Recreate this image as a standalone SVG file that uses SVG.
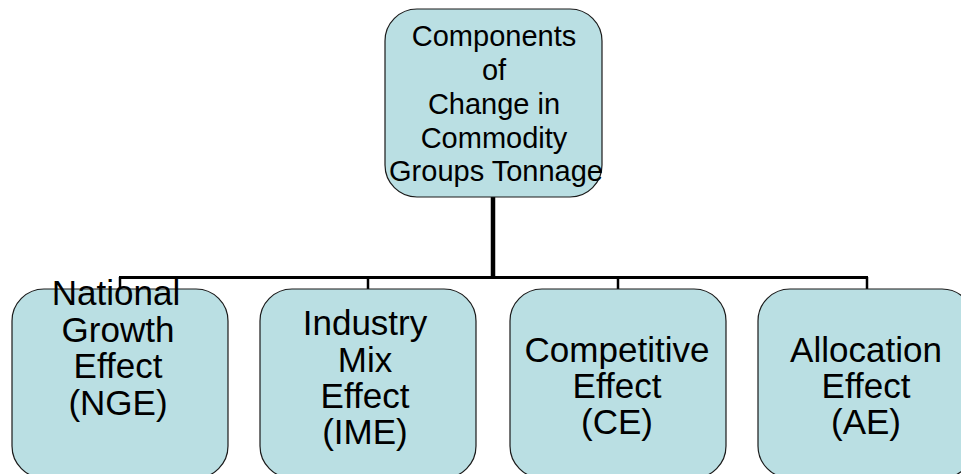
<svg xmlns="http://www.w3.org/2000/svg" width="961" height="474" viewBox="0 0 961 474">
<style>
.box{fill:#BADFE3;stroke:#1a1a1a;stroke-width:1.2}
.t{font-family:"Liberation Sans",Arial,sans-serif;fill:#000;text-anchor:middle}
.top{font-size:29px}
.bot{font-size:35px}
.c{stroke:#000;fill:none}
</style>
<rect width="961" height="474" fill="#fff"/>
<g id="connectors">
<line class="c" x1="493" y1="197" x2="493" y2="278" stroke-width="4.5"/>
<line class="c" x1="119" y1="277.5" x2="868" y2="277.5" stroke-width="3"/>
<line class="c" x1="120" y1="277" x2="120" y2="290" stroke-width="2.5"/>
<line class="c" x1="368" y1="277" x2="368" y2="290" stroke-width="2.5"/>
<line class="c" x1="618" y1="277" x2="618" y2="290" stroke-width="2.5"/>
<line class="c" x1="867" y1="277" x2="867" y2="290" stroke-width="2.5"/>
</g>
<g id="root">
<rect class="box" x="385" y="9" width="217" height="188" rx="32" ry="32"/>
<text class="t top" x="494" y="46">Components</text>
<text class="t top" x="494" y="80">of</text>
<text class="t top" x="494" y="114">Change in</text>
<text class="t top" x="494" y="148">Commodity</text>
<text class="t top" x="496" y="181">Groups Tonnage</text>
</g>
<g id="nge">
<rect class="box" x="12" y="289" width="216" height="189" rx="32" ry="32"/>
<text class="t bot" x="116" y="305">National</text>
<text class="t bot" x="118" y="342">Growth</text>
<text class="t bot" x="118" y="378">Effect</text>
<text class="t bot" x="118" y="415">(NGE)</text>
</g>
<g id="ime">
<rect class="box" x="260" y="289" width="216" height="189" rx="32" ry="32"/>
<text class="t bot" x="365" y="335">Industry</text>
<text class="t bot" x="365" y="372">Mix</text>
<text class="t bot" x="365" y="408">Effect</text>
<text class="t bot" x="365" y="444">(IME)</text>
</g>
<g id="ce">
<rect class="box" x="510" y="289" width="216" height="189" rx="32" ry="32"/>
<text class="t bot" x="617" y="362">Competitive</text>
<text class="t bot" x="617" y="398">Effect</text>
<text class="t bot" x="617" y="434">(CE)</text>
</g>
<g id="ae">
<rect class="box" x="758" y="289" width="216" height="189" rx="32" ry="32"/>
<text class="t bot" x="866" y="362">Allocation</text>
<text class="t bot" x="866" y="398">Effect</text>
<text class="t bot" x="866" y="434">(AE)</text>
</g>
</svg>
